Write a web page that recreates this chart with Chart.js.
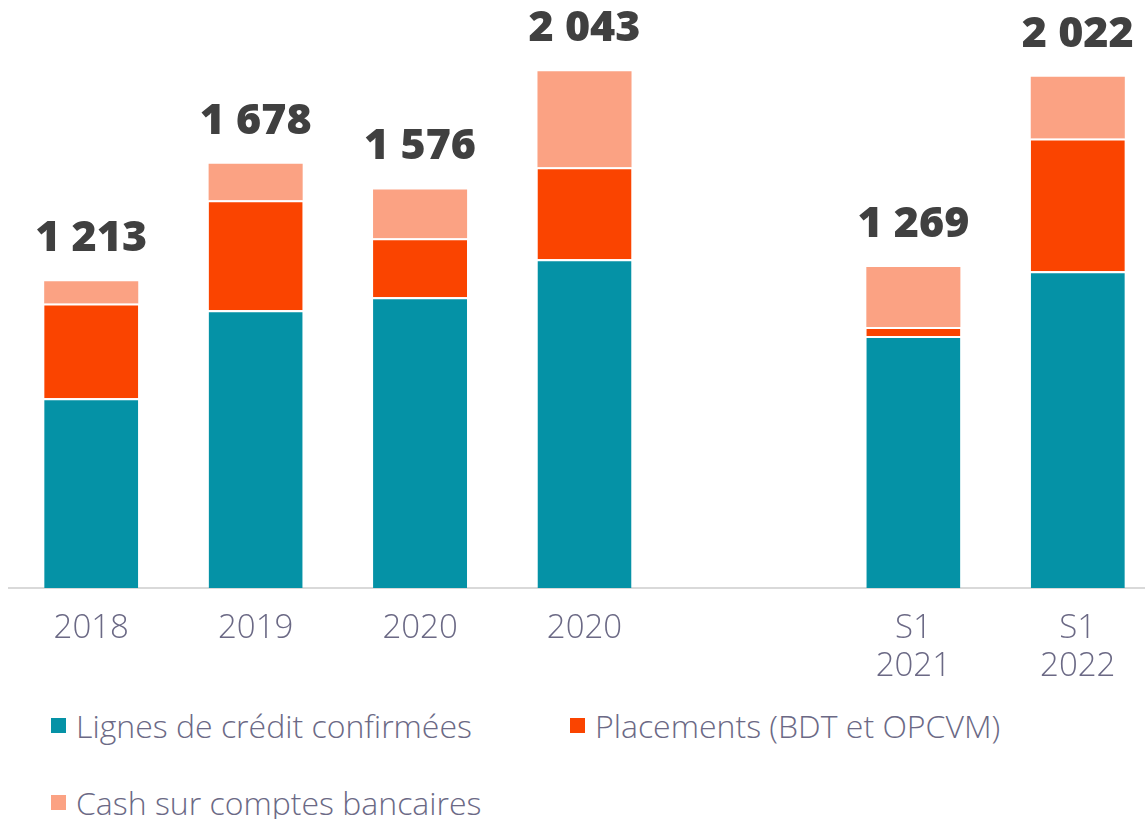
<!DOCTYPE html>
<html>
<head>
<meta charset="utf-8">
<script src="https://cdn.jsdelivr.net/npm/chart.js@4"></script>
<style>
  html, body { margin: 0; padding: 0; background: #fff; width: 1145px; height: 819px; overflow: hidden; }
  #wrap { position: absolute; left: 0; top: 0; width: 1160px; height: 700px; }
  .leg { position: absolute; display: flex; align-items: center; height: 40px; font-family: "Open Sans", sans-serif; font-weight: 300; font-size: 32px; color: #6b6985; white-space: nowrap; }
  .leg i { display: inline-block; width: 15px; height: 15px; margin-right: 10px; }
</style>
</head>
<body>
<div id="wrap"><canvas id="c"></canvas></div>
<div id="legend"></div>
<script>
const categories = ['2018', '2019', '2020', '2020', '', ['S1', '2021'], ['S1', '2022']];
const lignesCredit = [750, 1098, 1150, 1300, null, 996, 1252];
const placements = [375, 435, 233, 364, null, 36, 525];
const cashBancaire = [88, 145, 193, 379, null, 237, 245];
const seriesNames = ['Lignes de crédit confirmées', 'Placements (BDT et OPCVM)', 'Cash sur comptes bancaires'];
const seriesColors = ['#0592A6', '#FA4400', '#FBA283'];
const legendPos = [[51, 705], [570, 705], [51, 782]];

const seriesData = [lignesCredit, placements, cashBancaire];

function fmt(n) { return String(n).replace(/\B(?=(\d{3})+(?!\d))/g, ' '); }

const totalsPlugin = {
  id: 'totals',
  afterDatasetsDraw(chart) {
    const ctx = chart.ctx;
    const xs = chart.scales.x, ys = chart.scales.y;
    ctx.save();
    ctx.font = '800 43px "Open Sans"';
    ctx.fillStyle = '#404040';
    ctx.textAlign = 'center';
    ctx.textBaseline = 'alphabetic';
    categories.forEach((c, i) => {
      if (lignesCredit[i] == null) return;
      const total = seriesData.reduce((s, arr) => s + (arr[i] || 0), 0);
      const x = xs.getPixelForValue(i);
      const y = ys.getPixelForValue(total);
      ctx.fillText(fmt(total), x, y - 30);
    });
    ctx.restore();
  }
};

new Chart(document.getElementById('c'), {
  type: 'bar',
  data: {
    labels: categories,
    datasets: seriesData.map((d, k) => ({
      label: seriesNames[k],
      data: d,
      backgroundColor: seriesColors[k],
      borderColor: '#ffffff',
      borderWidth: k < 2 ? { top: 2, left: 0, right: 0, bottom: 0 } : 0,
      borderSkipped: 'start',
      categoryPercentage: 1,
      barPercentage: 0.572
    }))
  },
  options: {
    responsive: true,
    maintainAspectRatio: false,
    animation: false,
    layout: { padding: { left: 9, right: 0, top: 0, bottom: 0 } },
    plugins: { legend: { display: false }, tooltip: { enabled: false } },
    scales: {
      x: {
        stacked: true,
        offset: true,
        grid: { display: true, color: 'rgba(0,0,0,0)', drawTicks: false },
        border: { display: true, color: '#d9d9d9', width: 2 },
        ticks: {
          color: '#6b6985',
          font: { family: 'Open Sans', weight: 300, size: 33, lineHeight: 1.16 },
          padding: 21,
          maxRotation: 0,
          autoSkip: false
        },
        afterFit(s) { s.height = 112; }
      },
      y: {
        stacked: true,
        display: false,
        min: 0,
        max: 2325
      }
    }
  },
  plugins: [totalsPlugin]
});

const legendEl = document.getElementById('legend');
seriesNames.forEach((name, k) => {
  const d = document.createElement('div');
  d.className = 'leg';
  d.style.left = legendPos[k][0] + 'px';
  d.style.top = legendPos[k][1] + 'px';
  const box = document.createElement('i');
  box.style.background = seriesColors[k];
  d.appendChild(box);
  d.appendChild(document.createTextNode(name));
  legendEl.appendChild(d);
});
</script>
</body>
</html>
